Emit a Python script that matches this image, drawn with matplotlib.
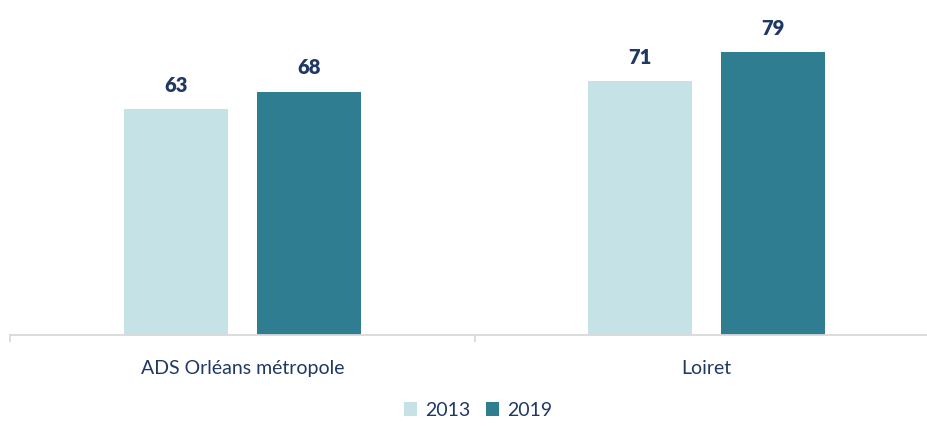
import matplotlib.pyplot as plt
import numpy as np

# données
categories = ["ADS Orléans métropole", "Loiret"]
annees = ["2013", "2019"]
valeurs_2013 = [63, 71]
valeurs_2019 = [68, 79]

couleur_claire = "#C5E2E6"
couleur_foncee = "#2E7D91"
couleur_texte = "#1F3864"

plt.rcParams["font.family"] = ["Lato", "DejaVu Sans"]

fig = plt.figure(figsize=(9.27, 4.27), dpi=100)
# l'axe déborde un peu à droite comme dans l'original
ax = fig.add_axes([10 / 927, 1 - 336 / 427, 929 / 927, 336 / 427])

x = np.arange(len(categories))
largeur = 0.224
decalage = 0.143

b1 = ax.bar(x - decalage, valeurs_2013, largeur, color=couleur_claire, label=annees[0])
b2 = ax.bar(x + decalage, valeurs_2019, largeur, color=couleur_foncee, label=annees[1])

for barres in (b1, b2):
    ax.bar_label(barres, padding=11, fontsize=14.5, fontweight="heavy", color=couleur_texte)

ax.set_xlim(-0.5, 1.5)
ax.set_ylim(0, 336 / 3.58)

for s in ["top", "right", "left"]:
    ax.spines[s].set_visible(False)
ax.spines["bottom"].set_color("#D9D9D9")
ax.spines["bottom"].set_linewidth(1.3)

ax.set_yticks([])
ax.set_xticks(x)
ax.set_xticklabels(categories, fontsize=14, color=couleur_texte)
ax.tick_params(axis="x", which="major", length=0, pad=17)
ax.set_xticks([-0.5, 0.5, 1.5], minor=True)
ax.tick_params(axis="x", which="minor", length=5, width=1.3, color="#D9D9D9", direction="out")

fig.legend(handles=[b1, b2], labels=annees, loc="center", bbox_to_anchor=(478 / 927, 1 - 411 / 427),
           ncol=2, frameon=False, fontsize=14, handlelength=0.7, handleheight=0.7,
           handletextpad=0.4, columnspacing=0.8, labelcolor=couleur_texte)

fig.savefig("out.png", dpi=100)
